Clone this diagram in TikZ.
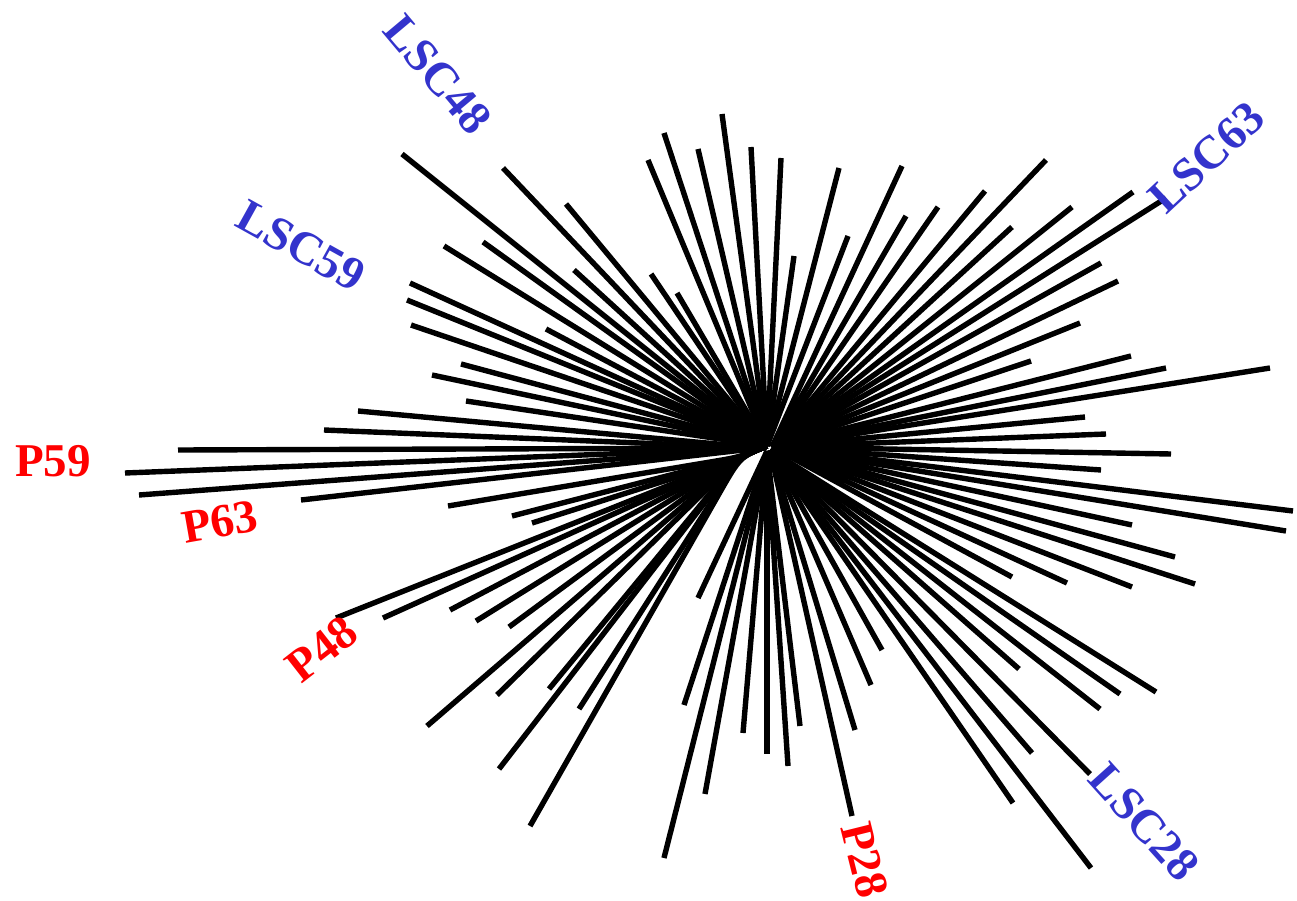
\documentclass[tikz,border=0pt]{standalone}
\usepackage{fontspec}
\setmainfont{Liberation Serif}
\usetikzlibrary{calc}
\definecolor{lblue}{RGB}{51,51,204}
\definecolor{lred}{RGB}{255,0,0}
\tikzset{
  br/.style={line width=5.4pt, draw=black},
  lab/.style={font=\fontsize{47}{47}\selectfont\bfseries, inner sep=0pt, anchor=center},
  bl/.style={lab, text=lblue},
  rd/.style={lab, text=lred}
}
\begin{document}
\begin{tikzpicture}[x=1pt,y=-1pt]
\useasboundingbox (0,0) rectangle (1297,901);
% hubs
\coordinate (C) at (767,446);
\coordinate (CR) at (772,447);
\coordinate (CL) at (761,448);
\coordinate (N1) at (740,457);
\coordinate (CB) at (767,451);
\coordinate (CD) at (770,450);
% upper / upper-left leaves
\foreach \x/\y [count=\i] in {402/154,503/168,566/204,444/246,483/242,574/270,651/274,677/293,410/283,407/300,411/325,546/329,461/364,432/375,466/401,648/160,664/133,698/149,722/114,751/147,781/158,839/168,794/256,848/236}
  {\coordinate (u\i) at (\x,\y); \draw[br] (C) -- (u\i);}
% left leaves
\foreach \x/\y [count=\i] in {358/411,324/430,178/450,125/473,139/495,301/500}
  {\coordinate (l\i) at (\x,\y); \draw[br] (CL) -- (l\i);}
% right leaves
\foreach \x/\y [count=\i] in {902/166,906/216,938/207,985/191,1046/160,1012/227,1072/207,1133/192,1166/198,1101/263,1118/281,1080/323,1031/361,1131/356,1166/368,1270/368,1085/417,1106/434,1171/454,1101/470,1293/511,1286/531,1132/525,1175/557,1195/584,1132/587,1067/583,1012/577}
  {\coordinate (r\i) at (\x,\y); \draw[br] (CR) -- (r\i);}
% lower-right leaves
\foreach \x/\y [count=\i] in {1156/692,1120/694,1100/709,1019/669,1032/753,1090/774,1013/803,1091/868,882/650,871/685,855/730,852/816}
  {\coordinate (e\i) at (\x,\y); \draw[br] (CD) -- (e\i);}
% bottom leaves
\foreach \x/\y [count=\i] in {800/726,788/766,767/754,743/733,705/794,664/858,684/705,698/598}
  {\coordinate (b\i) at (\x,\y); \draw[br] (CB) -- (b\i);}
% lower-left clade (curved out of the centre)
\foreach \x/\y [count=\i] in {448/506,512/516,532/523,336/618,383/618,450/610,476/621,509/627,427/726,497/695,549/689,579/709,499/769,530/826}
  {\coordinate (d\i) at (\x,\y); \draw[br] (C) .. controls (N1) .. ($(N1)!0.1!(d\i)$) -- (d\i);}
% labels
\node[bl, rotate=-50] (tLSC48) at (438,75) {LSC48};
\node[bl, rotate=-29] (tLSC59) at (301,246) {LSC59};
\node[bl, rotate=43] (tLSC63) at (1207,157) {LSC63};
\node[bl, rotate=-48] (tLSC28) at (1144,822) {LSC28};
\node[rd] (tP59) at (53,461) {P59};
\node[rd, rotate=10] (tP63) at (220,522) {P63};
\node[rd, rotate=38] (tP48) at (322,649) {P48};
\node[rd, rotate=-76] (tP28) at (865,860) {P28};
\end{tikzpicture}
\end{document}
